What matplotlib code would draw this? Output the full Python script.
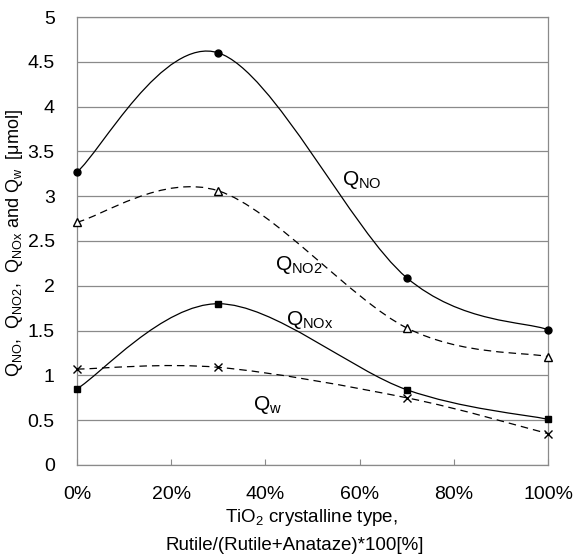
import numpy as np
import matplotlib
matplotlib.use("Agg")
import matplotlib.pyplot as plt
from matplotlib.path import Path
from matplotlib.patches import PathPatch

plt.rcParams["font.family"] = ["Liberation Sans", "DejaVu Sans"]
plt.rcParams["mathtext.default"] = "regular"

# data (x = rutile share in %)
X_PCT = [0, 30, 70, 100]
Q_NO = [3.27, 4.60, 2.09, 1.51]
Q_NO2 = [2.71, 3.06, 1.53, 1.21]
Q_NOX = [0.85, 1.80, 0.84, 0.51]
Q_W = [1.07, 1.09, 0.75, 0.35]

X_TICKS = [0, 20, 40, 60, 80, 100]
X_TICK_LABELS = ["0%", "20%", "40%", "60%", "80%", "100%"]
Y_TICKS = [0, 0.5, 1, 1.5, 2, 2.5, 3, 3.5, 4, 4.5, 5]
Y_TICK_LABELS = ["0", "0.5", "1", "1.5", "2", "2.5", "3", "3.5", "4", "4.5", "5"]

GRID_COLOR = "#8a8a8a"


def smooth_path(xs, ys):
    """Excel-like smoothed line: cubic Bezier segments (Catmull-Rom, 1/6)."""
    p = np.column_stack([xs, ys]).astype(float)
    n = len(p)
    verts = [p[0]]
    codes = [Path.MOVETO]
    for i in range(n - 1):
        prev = p[i - 1] if i > 0 else p[i]
        nxt = p[i + 2] if i + 2 < n else p[i + 1]
        c1 = p[i] + (p[i + 1] - prev) / 6.0
        c2 = p[i + 1] - (nxt - p[i]) / 6.0
        verts += [c1, c2, p[i + 1]]
        codes += [Path.CURVE4] * 3
    return Path(verts, codes)


fig = plt.figure(figsize=(5.73, 5.56), dpi=100)
ax = fig.add_axes([0.1344, 0.1637, 0.822, 0.8057])

series = [
    (Q_NO, "-", "o", "k", 5),
    (Q_NO2, (0, (6, 4)), "^", "white", 6),
    (Q_NOX, "-", "s", "k", 5),
    (Q_W, (0, (6, 4)), "x", "k", 6),
]
for ys, ls, mk, mfc, ms in series:
    ax.add_patch(PathPatch(smooth_path(X_PCT, ys), fill=False,
                           edgecolor="black", linewidth=0.9, linestyle=ls,
                           zorder=3))
    ax.plot(X_PCT, ys, linestyle="none", marker=mk, markersize=ms,
            markerfacecolor=mfc, markeredgecolor="black",
            markeredgewidth=1.0, zorder=4, clip_on=False)

ax.set_xlim(0, 100)
ax.set_ylim(0, 5)
ax.set_yticks(Y_TICKS)
ax.set_yticklabels(Y_TICK_LABELS)
ax.set_xticks(X_TICKS)
ax.set_xticklabels(X_TICK_LABELS)
ax.tick_params(axis="y", length=0, pad=16, labelsize=14)
ax.tick_params(axis="x", direction="in", length=4, width=0.8,
               color=GRID_COLOR, pad=15, labelsize=14)
ax.yaxis.grid(True, color=GRID_COLOR, linewidth=0.9)
ax.set_axisbelow(True)
for side in ["left", "bottom", "right", "top"]:
    ax.spines[side].set_color(GRID_COLOR)
    ax.spines[side].set_linewidth(0.9)

# curve labels
ax.text(60.5, 3.18, "Q$_{NO}$", fontsize=15, ha="center", va="center")
ax.text(47.0, 2.23, "Q$_{NO2}$", fontsize=15, ha="center", va="center")
ax.text(49.5, 1.62, "Q$_{NOx}$", fontsize=15, ha="center", va="center")
ax.text(40.5, 0.67, "Q$_{w}$", fontsize=15, ha="center", va="center")

# axis titles
fig.text(0.543, 1 - 518 / 556, "TiO$_{2}$ crystalline type,",
         fontsize=13.5, ha="center", va="center")
fig.text(0.515, 1 - 546 / 556, "Rutile/(Rutile+Anataze)*100[%]",
         fontsize=13.5, ha="center", va="center")
fig.text(0.026, 1 - 243 / 556,
         "Q$_{NO}$,  Q$_{NO2}$,  Q$_{NOx}$ and Q$_{w}$  [\u03bcmol]",
         fontsize=13, rotation=90, ha="center", va="center")

fig.savefig("out.png", dpi=100)
